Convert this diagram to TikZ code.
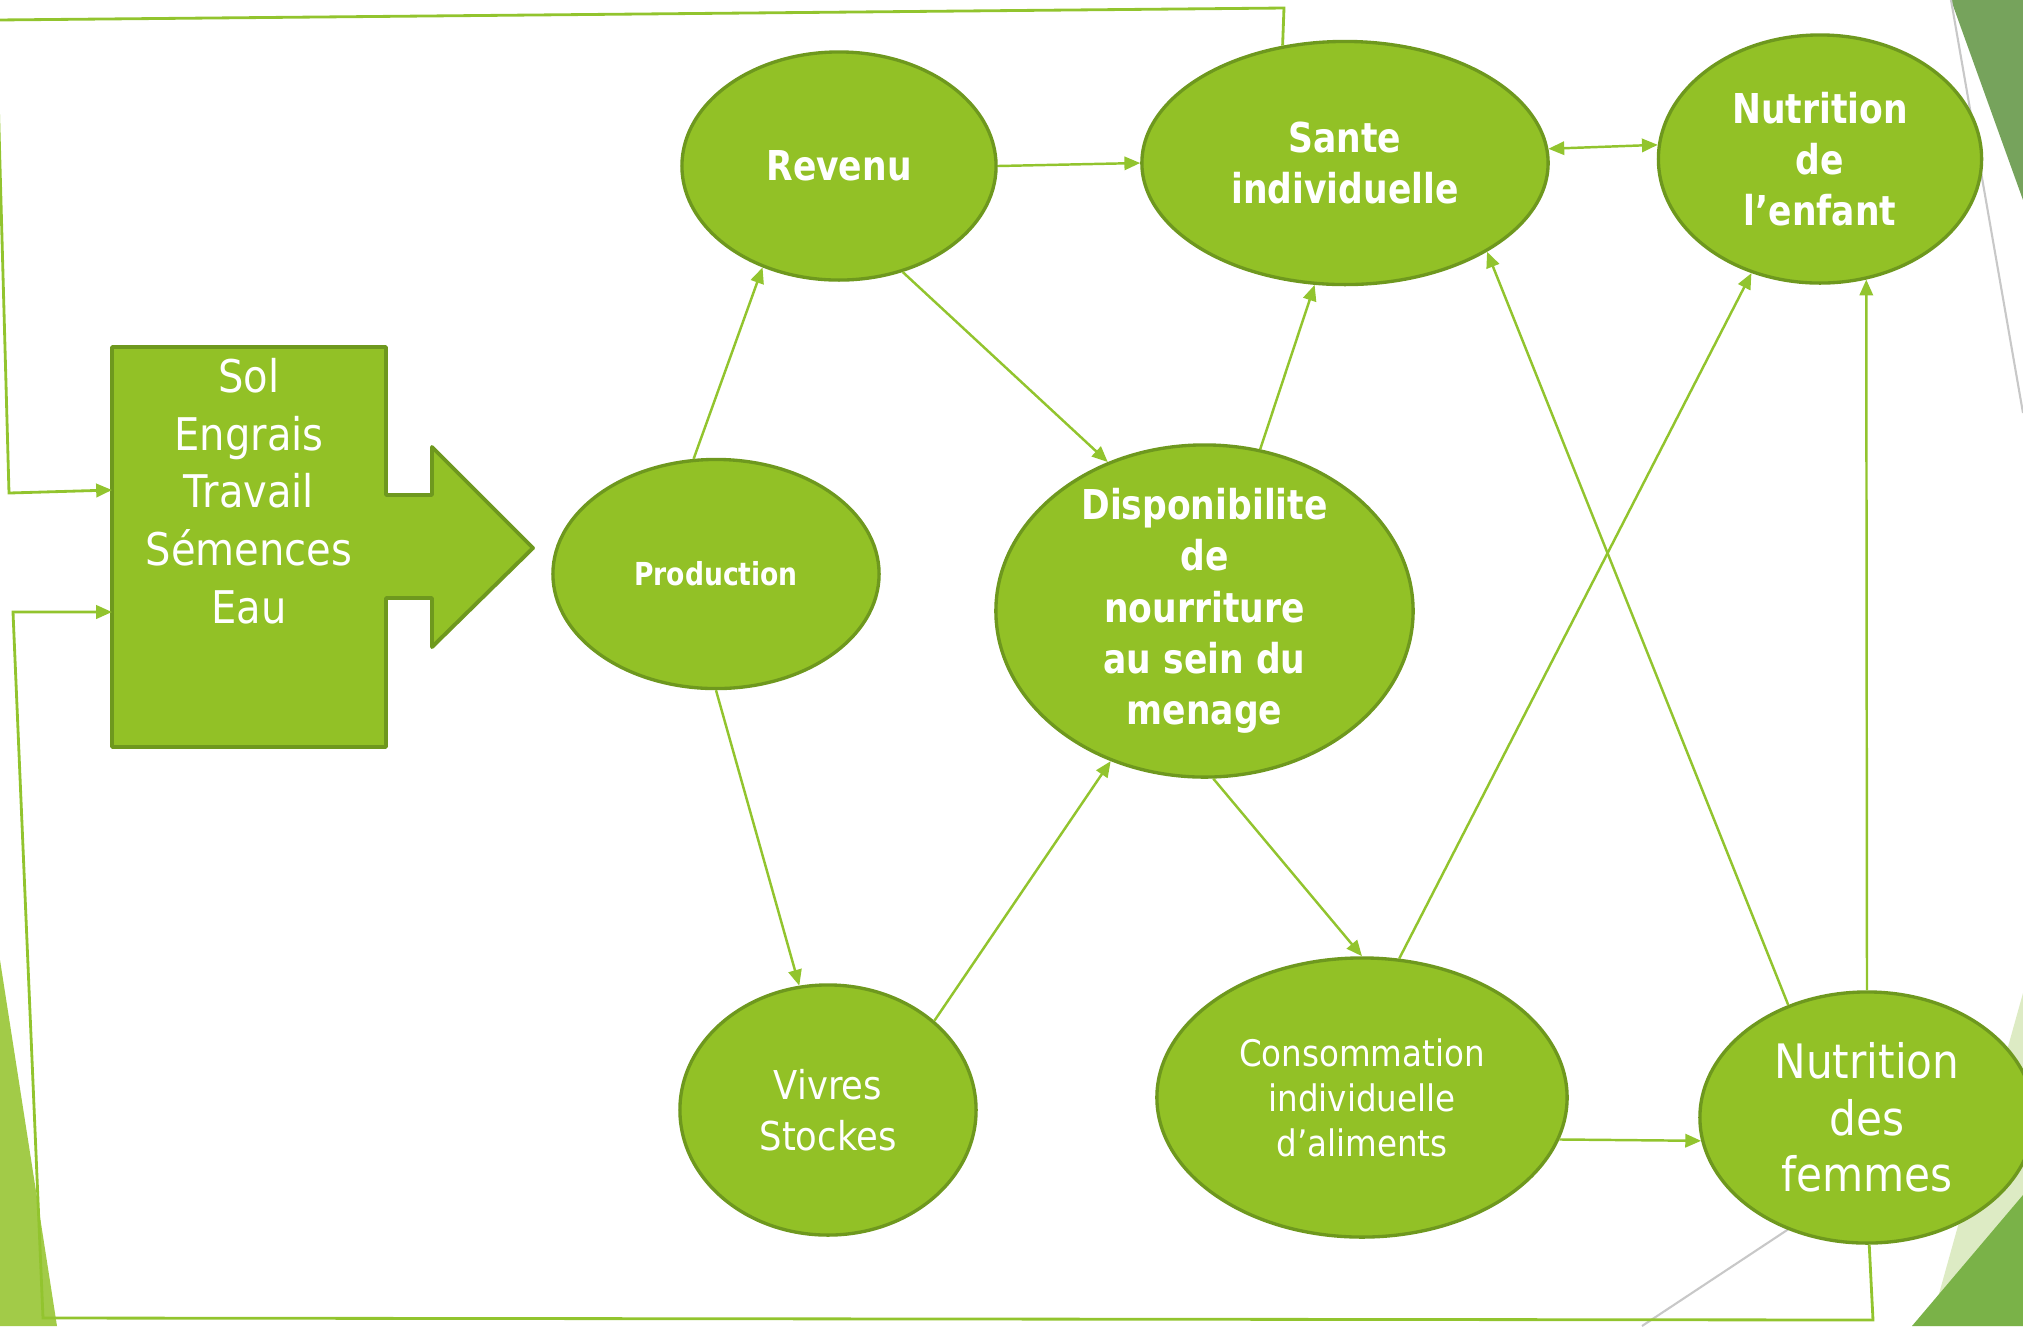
\documentclass[tikz,border=0pt]{standalone}
\usepackage{fontspec}
\usetikzlibrary{shapes.geometric,arrows.meta}

\newfontfamily\regfont{DejaVu Sans}[FakeStretch=0.89]
\newfontfamily\boldfont{DejaVu Sans}[FakeStretch=0.84]

\definecolor{vertfond}{HTML}{92C126}
\definecolor{vertbord}{HTML}{6E981E}
\definecolor{vertlien}{HTML}{92C42E}
\definecolor{vertclair}{HTML}{A2CB48}
\definecolor{vertgris}{HTML}{76A35C}
\definecolor{vertfonce}{HTML}{7AB248}
\definecolor{vertpale}{HTML}{DDEBC4}
\definecolor{grisligne}{HTML}{C8C8C8}

\tikzset{
  bulle/.style={ellipse, draw=vertbord, fill=vertfond, line width=0.95pt,
    inner sep=0pt, text=white, align=center},
  gras/.style={font=\boldfont\bfseries\fontsize{11.7}{14.6}\selectfont},
  lien/.style={draw=vertlien, line width=0.7pt, -{Triangle[length=4.5pt,width=3.8pt]}},
  retour/.style={draw=vertlien, line width=0.8pt, -{Triangle[length=4.5pt,width=3.8pt]}},
}

\begin{document}
\begin{tikzpicture}[x=0.01cm, y=-0.01cm]
    \useasboundingbox (0,0) rectangle (2023,1326);

    % Decor
    \fill[vertclair] (0,960) -- (57,1326) -- (0,1326) -- cycle;
    \fill[vertgris] (1951,0) -- (2023,0) -- (2023,200) -- cycle;
    \fill[vertpale] (2023,993) -- (1930,1326) -- (2023,1326) -- cycle;
    \fill[vertfonce] (2023,1195) -- (1912,1326) -- (2023,1326) -- cycle;
    \draw[grisligne, line width=0.6pt] (1951,0) -- (2023,413);
    \draw[grisligne, line width=0.6pt] (1642,1326) -- (2023,1074);

    % Bloc des intrants
    \draw[fill=vertfond, draw=vertbord, line width=1.1pt, line join=round]
        (112,347) -- (386,347) -- (386,495) -- (432,495) -- (432,447) -- (533,548)
        -- (432,647) -- (432,598) -- (386,598) -- (386,747) -- (112,747) -- cycle;
    \node[text=white, align=center, font=\regfont\fontsize{12.8}{16.4}\selectfont]
        (intrants) at (249,491) {Sol\\Engrais\\Travail\\Sémences\\Eau};
    \coordinate (entree-haut) at (112,490);
    \coordinate (entree-bas) at (112,612);

    % Bulles
    \node[bulle, gras, minimum width=3.14cm, minimum height=2.28cm] (revenu) at (839,166) {Revenu};
    \node[bulle, gras, minimum width=4.06cm, minimum height=2.43cm] (sante) at (1345,163) {Sante\\individuelle};
    \node[bulle, gras, minimum width=3.23cm, minimum height=2.48cm] (nutenf) at (1820,159) {Nutrition\\de\\l’enfant};
    \node[bulle, minimum width=3.26cm, minimum height=2.29cm,
        font=\boldfont\bfseries\fontsize{9}{11}\selectfont] (prod) at (716,574) {Production};
    \node[bulle, gras, inner ysep=-10pt, minimum width=4.17cm, minimum height=3.32cm] (dispo) at (1204.5,611)
        {Disponibilite\\de\\nourriture\\au sein du\\menage};
    \node[bulle, minimum width=2.96cm, minimum height=2.50cm,
        font=\regfont\fontsize{11.3}{14.5}\selectfont] (vivres) at (828,1110) {Vivres\\Stockes};
    \node[bulle, minimum width=4.10cm, minimum height=2.79cm,
        font=\regfont\fontsize{10.4}{12.8}\selectfont] (conso) at (1362,1097.5)
        {Consommation\\individuelle\\d’aliments};
    \node[bulle, minimum width=3.34cm, minimum height=2.51cm,
        font=\regfont\fontsize{13.5}{16}\selectfont] (femmes) at (1867,1117.5) {Nutrition\\des\\femmes};

    % Liens
    \draw[lien] (prod.101) -- (revenu.233);
    \draw[lien] (revenu.301) -- (dispo.123);
    \draw[lien] (revenu.east) -- (sante.west);
    \draw[lien] (dispo.71) -- (sante.256);
    \draw[lien, {Triangle[length=4.5pt,width=3.8pt]}-{Triangle[length=4.5pt,width=3.8pt]}] (sante.4) -- (nutenf.175);
    \draw[lien] (prod.south) -- (vivres.103);
    \draw[lien] (vivres.40) -- (dispo.238);
    \draw[lien] (dispo.273) -- (conso.north);
    \draw[lien] (conso.75) -- (nutenf.239);
    \draw[lien] (femmes.125) -- (sante.328);
    \draw[lien] (femmes.north) -- (nutenf.291);
    \draw[lien] (conso.348) -- (femmes.188);

    % Retours vers les intrants
    \draw[retour] (sante.118) -- (1284,8) -- (-4,20) -- (9,493) -- (entree-haut);
    \draw[retour] (femmes.271) -- (1873,1320) -- (43,1318) -- (13,612) -- (entree-bas);
\end{tikzpicture}
\end{document}
